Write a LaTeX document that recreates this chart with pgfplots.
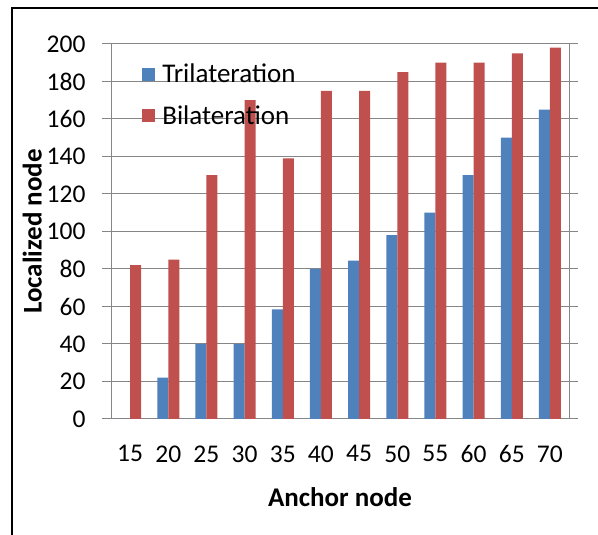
\documentclass[border=0pt]{standalone}
\usepackage{pgfplots}
\pgfplotsset{compat=1.18}
\usepackage{fontspec}
\setmainfont{Carlito}
\definecolor{triblue}{HTML}{4F81BD}
\definecolor{bired}{HTML}{C0504D}
\definecolor{gridgray}{HTML}{868686}
\begin{document}
\begin{tikzpicture}
\useasboundingbox (0,0) rectangle (598bp,535bp);
\fill[white] (0,0) rectangle (598bp,535bp);
\draw[black, line width=2bp] (12bp,0) -- (12bp,527bp) -- (598bp,527bp);
\begin{axis}[
  at={(111bp,116bp)}, anchor=south west,
  scale only axis, width=458bp, height=375bp,
  ymin=0, ymax=200, ytick={0,20,...,200},
  xmin=-0.5, xmax=11.5, xtick={0,...,11},
  xticklabels={15,20,25,30,35,40,45,50,55,60,65,70},
  /pgf/number format/assume math mode=true,
  axis line style={gridgray, line width=1bp},
  ymajorgrids, grid style={gridgray, line width=1bp},
  tick align=outside, major tick length=9bp,
  ytick style={gridgray, line width=1bp},
  xtick style={draw=none},
  ticklabel style={font=\fontsize{25.5bp}{30bp}\selectfont, text=black},
  yticklabel style={xshift=-13bp},
  xticklabel style={yshift=-14bp},
  xlabel={Anchor node}, ylabel={Localized node},
  label style={font=\fontsize{27bp}{32bp}\selectfont\bfseries},
  xlabel style={at={(axis description cs:0.5,-0.208)}, anchor=center},
  ylabel style={at={(axis description cs:-0.172,0.50)}, anchor=center, rotate=0},
  ybar=0pt, bar width=11bp,
  legend style={at={(axis description cs:0.068,0.952)}, anchor=north west, draw=none, fill=none,
    font=\fontsize{27bp}{32bp}\selectfont, row sep=17bp, inner sep=0pt,
    nodes={inner sep=2bp}},
  legend cell align=left,
  legend image code/.code={\fill[#1] (0bp,-6.5bp) rectangle (13bp,6.5bp); \path (18bp,0bp);},
]
\addplot[fill=triblue, draw=none] coordinates {(0,0) (1,22) (2,40) (3,40) (4,58.5) (5,80) (6,84.5) (7,98) (8,110) (9,130) (10,150) (11,165)};
\addplot[fill=bired, draw=none] coordinates {(0,82) (1,85) (2,130) (3,170) (4,139) (5,175) (6,175) (7,185) (8,190) (9,190) (10,195) (11,198)};
\legend{Trilateration, Bilateration}
\end{axis}
\end{tikzpicture}
\end{document}
